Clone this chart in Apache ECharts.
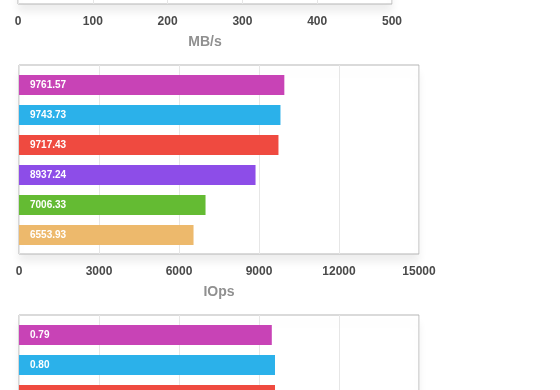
<!DOCTYPE html>
<html><head><meta charset="utf-8">
<script src="https://cdn.jsdelivr.net/npm/echarts@6/dist/echarts.min.js"></script>
<style>html,body{margin:0;padding:0;background:#fff}#c{width:560px;height:390px}</style>
</head><body><div id="c"></div>
<script>
// ---- data ----
const categories = ['r1','r2','r3','r4','r5','r6'];
const barColors = ['#C843B6','#2BB1EA','#EF4A40','#8D4DE8','#64BB33','#EDB96C'];

const mbsMax = 500, mbsInterval = 100;            // top chart (only its axis is visible)

const iopsValues = [9950, 9805, 9730, 8870, 6995, 6545];
const iopsLabels = ['9761.57','9743.73','9717.43','8937.24','7006.33','6553.93'];
const iopsMax = 15000, iopsInterval = 3000;

const latValues = [0.79, 0.80, 0.80, null, null, null];
const latLabels = ['0.79','0.80','','','',''];
const latMax = 1.25, latInterval = 0.25;

// ---- chart ----
const FONT = "'Liberation Sans', Arial, Helvetica, sans-serif";
const chart = echarts.init(document.getElementById('c'), null, {renderer:'canvas'});

function frameGrid(left, width, top) {
  return {left, width, top, height: 189, show: true, backgroundColor: '#fff',
    borderColor: '#b5b5b5', borderWidth: 1,
    shadowColor: 'rgba(0,0,0,0.07)', shadowBlur: 8, shadowOffsetY: 8,
    containLabel: false, outerBoundsMode: 'none'};
}
function dataGrid(left, width, top) {
  return {left, width, top: top + 5, height: 180, show: false,
    containLabel: false, outerBoundsMode: 'none'};
}
function frameX(gi, max, interval, name, fmt) {
  return {gridIndex: gi, type: 'value', min: 0, max, interval,
    axisLine: {show: false}, axisTick: {show: false},
    splitLine: {show: true, lineStyle: {color: '#e6e6e6', width: 1}},
    axisLabel: {margin: 12, color: '#4a4a4a', fontSize: 12, fontWeight: 'bold', fontFamily: FONT,
      formatter: fmt || (v => String(v))},
    name, nameLocation: 'middle', nameGap: 31,
    nameTextStyle: {color: '#909090', fontSize: 14, fontWeight: 'bold', fontFamily: FONT}};
}
function dataX(gi, max) {
  return {gridIndex: gi, type: 'value', min: 0, max, show: false, splitLine: {show: false}};
}
function yCat(gi) {
  return {gridIndex: gi, type: 'category', data: categories, inverse: true, show: false};
}
function barSeries(gi, values, labels) {
  return {type: 'bar', xAxisIndex: gi, yAxisIndex: gi, barWidth: 20,
    data: values.map((v, i) => ({value: v, itemStyle: {color: barColors[i]}})),
    label: {show: true, position: 'insideLeft', distance: 11, color: '#fff',
      fontSize: 10, fontWeight: 'bold', fontFamily: FONT,
      formatter: p => labels[p.dataIndex]},
    animation: false};
}

chart.setOption({
  animation: false,
  grid: [
    frameGrid(18, 374, -185), dataGrid(18, 374, -185),
    frameGrid(19, 400, 65),   dataGrid(19, 400, 65),
    frameGrid(19, 400, 315),  dataGrid(19, 400, 315)
  ],
  xAxis: [
    frameX(0, mbsMax, mbsInterval, 'MB/s'), dataX(1, mbsMax),
    frameX(2, iopsMax, iopsInterval, 'IOps'), dataX(3, iopsMax),
    frameX(4, latMax, latInterval, '', v => v.toFixed(2)), dataX(5, latMax)
  ],
  yAxis: [yCat(0), yCat(1), yCat(2), yCat(3), yCat(4), yCat(5)],
  series: [
    barSeries(3, iopsValues, iopsLabels),
    barSeries(5, latValues, latLabels)
  ]
});
</script></body></html>
